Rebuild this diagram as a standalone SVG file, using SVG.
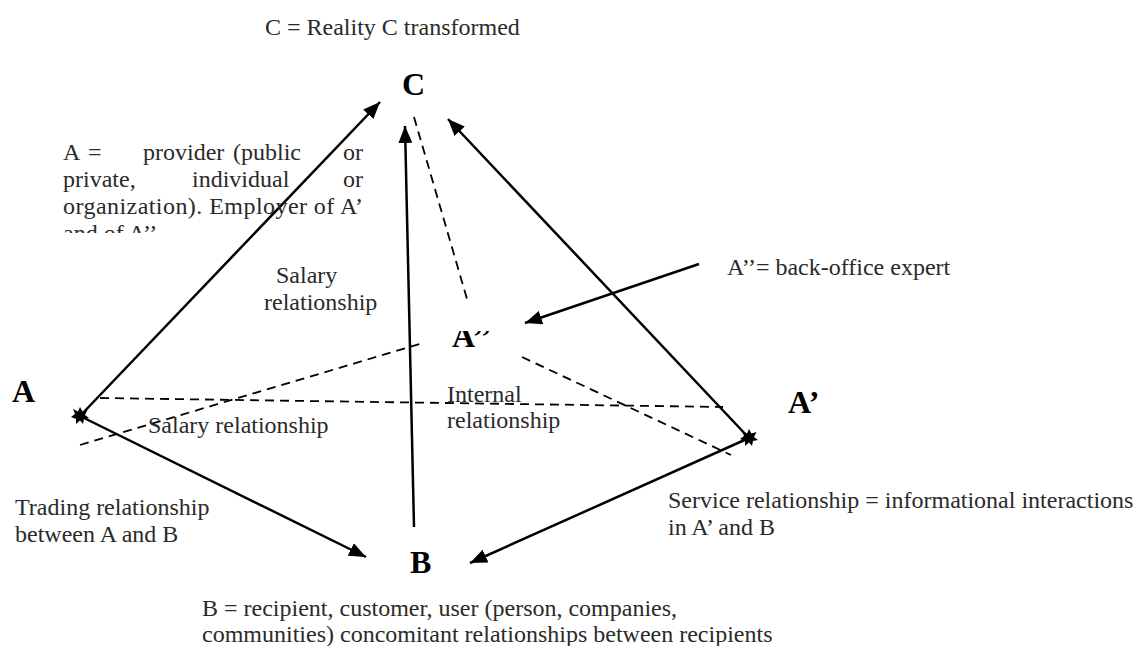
<svg xmlns="http://www.w3.org/2000/svg" width="1136" height="646" viewBox="0 0 1136 646">
<style>
.t{font-family:"Liberation Serif","Times New Roman",serif;font-size:24px;fill:#2a2a2a}
.big{font-family:"Liberation Serif","Times New Roman",serif;font-size:32px;font-weight:bold;fill:#000}
.solid{stroke:#000;stroke-width:2.5;fill:none}
.dash{stroke:#000;stroke-width:1.8;fill:none;stroke-dasharray:9,6}
</style>
<defs>
<marker id="arrow" markerUnits="userSpaceOnUse" markerWidth="18" markerHeight="14" refX="17" refY="7" orient="auto">
<path d="M0,0 L17,7 L0,14 z" fill="#000"/>
</marker>
<clipPath id="clipA2"><rect x="440" y="331" width="80" height="30"/></clipPath>
<clipPath id="clipLast"><rect x="55" y="215" width="320" height="18"/></clipPath>
</defs>

<g id="connectors">
<line class="solid" x1="80" y1="416" x2="380" y2="102" marker-end="url(#arrow)"/>
<line class="solid" x1="80" y1="416" x2="366" y2="557" marker-end="url(#arrow)"/>
<line class="solid" x1="414" y1="527" x2="405" y2="126" marker-end="url(#arrow)"/>
<line class="solid" x1="749" y1="438" x2="448" y2="119" marker-end="url(#arrow)"/>
<line class="solid" x1="749" y1="438" x2="470" y2="563" marker-end="url(#arrow)"/>
<line class="solid" x1="699" y1="264" x2="525" y2="323" marker-end="url(#arrow)"/>
<line class="dash" x1="414" y1="117" x2="467" y2="299"/>
<line class="dash" x1="80" y1="445" x2="423" y2="343"/>
<line class="dash" x1="100" y1="398" x2="723" y2="407"/>
<line class="dash" x1="522" y1="357" x2="731" y2="455"/>
</g>

<g id="node-C">
<text class="t" x="265" y="35">C = Reality C transformed</text>
<text class="big" x="402" y="95">C</text>
</g>

<g id="node-A">
<text class="big" x="12" y="402">A</text>
<polygon points="80,407 82.5,411.5 87.5,410 85,415 89,418 84,419 83,424 80,420.5 76,424 76,419 71,417 75,414 73,409 78,411.5" fill="#000"/>
<g id="label-A">
<text class="t" y="160"><tspan x="63">A</tspan><tspan x="88">=</tspan><tspan x="143">provider</tspan><tspan x="233">(public</tspan></text>
<text class="t" x="363" y="160" text-anchor="end">or</text>
<text class="t" y="187"><tspan x="63">private,</tspan><tspan x="192">individual</tspan></text>
<text class="t" x="363" y="187" text-anchor="end">or</text>
<text class="t" x="63" y="214" textLength="300" lengthAdjust="spacing">organization). Employer of A’</text>
<text class="t" x="63" y="241" clip-path="url(#clipLast)">and of A’’</text>
</g>
</g>

<g id="node-Aprime">
<text class="big" x="788" y="413">A’</text>
<polygon points="749,429 751.5,433.5 756.5,432 754,437 758,440 753,441 752,446 749,442.5 745,446 745,441 740,439 744,436 742,431 747,433.5" fill="#000"/>
</g>

<g id="node-Adouble">
<text class="big" x="452" y="347" clip-path="url(#clipA2)">A’’</text>
<text class="t" x="727" y="275">A’’= back-office expert</text>
</g>

<g id="node-B">
<text class="big" x="410" y="573">B</text>
<text class="t" x="202" y="616">B = recipient, customer, user (person, companies,</text>
<text class="t" x="202" y="642">communities) concomitant relationships between recipients</text>
</g>

<g id="relation-labels">
<text class="t" x="276" y="283">Salary</text>
<text class="t" x="264" y="310">relationship</text>
<text class="t" x="148" y="433">Salary relationship</text>
<text class="t" x="447" y="402">Internal</text>
<text class="t" x="447" y="428">relationship</text>
<text class="t" x="15" y="515">Trading relationship</text>
<text class="t" x="15" y="542">between A and B</text>
<text class="t" x="668" y="508">Service relationship = informational interactions</text>
<text class="t" x="668" y="535">in A’ and B</text>
</g>
</svg>
